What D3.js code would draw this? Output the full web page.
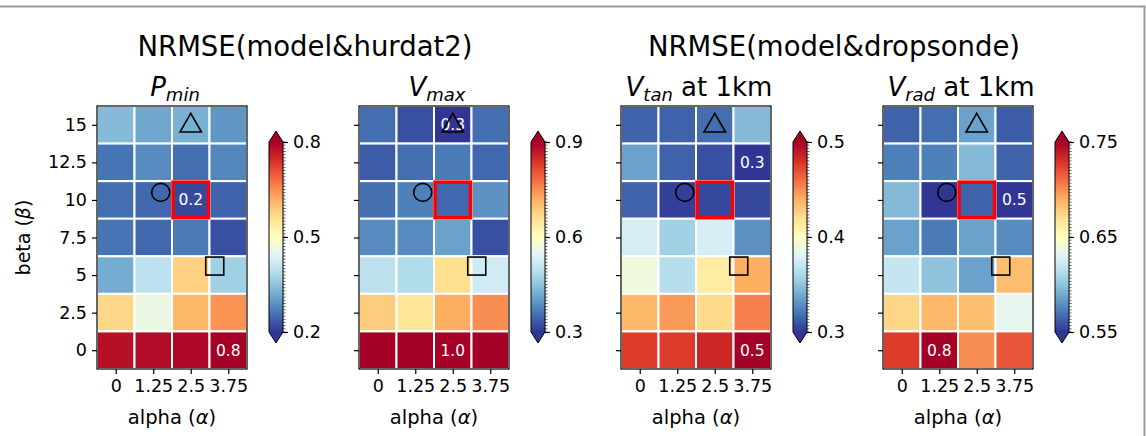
<!DOCTYPE html>
<html>
<head>
<meta charset="utf-8">
<script src="https://cdn.jsdelivr.net/npm/d3@7"></script>
<style>
  body { margin: 0; background: #fff; }
  svg { display: block; font-family: "DejaVu Sans", sans-serif; }
</style>
</head>
<body>
<svg id="chart" width="1146" height="436"></svg>
<script>
// grid axes
const alphas = [0, 1.25, 2.5, 3.75];
const betas = [15, 12.5, 10, 7.5, 5, 2.5, 0]; // rows, top to bottom
const alphaLabels = ["0", "1.25", "2.5", "3.75"];
const betaLabels = ["15", "12.5", "10", "7.5", "5", "2.5", "0"];

// NRMSE values, rows follow `betas`, columns follow `alphas`
const pmin = [
  [0.338, 0.314, 0.326, 0.296],
  [0.260, 0.284, 0.254, 0.278],
  [0.254, 0.248, 0.218, 0.242],
  [0.260, 0.248, 0.266, 0.224],
  [0.320, 0.398, 0.578, 0.368],
  [0.572, 0.462, 0.608, 0.644],
  [0.780, 0.785, 0.790, 0.810]
];
const vmax = [
  [0.354, 0.324, 0.300, 0.354],
  [0.336, 0.354, 0.366, 0.348],
  [0.354, 0.372, 0.348, 0.390],
  [0.384, 0.384, 0.408, 0.324],
  [0.498, 0.486, 0.660, 0.522],
  [0.684, 0.648, 0.720, 0.750],
  [0.960, 0.970, 1.000, 0.980]
];
const vtan = [
  [0.314, 0.314, 0.318, 0.346],
  [0.336, 0.314, 0.308, 0.300],
  [0.314, 0.303, 0.306, 0.306],
  [0.376, 0.356, 0.376, 0.330],
  [0.390, 0.364, 0.412, 0.440],
  [0.436, 0.446, 0.422, 0.454],
  [0.476, 0.476, 0.484, 0.510]
];
const vrad = [
  [0.564, 0.568, 0.586, 0.562],
  [0.574, 0.574, 0.596, 0.564],
  [0.596, 0.540, 0.564, 0.500],
  [0.586, 0.572, 0.586, 0.578],
  [0.620, 0.600, 0.586, 0.684],
  [0.674, 0.686, 0.684, 0.634],
  [0.726, 0.800, 0.700, 0.718]
];

const panels = [
  {sym: "P", sub: "min", rest: "", data: pmin, lim: [0.2, 0.8], ticks: [0.2, 0.5, 0.8]},
  {sym: "V", sub: "max", rest: "", data: vmax, lim: [0.3, 0.9], ticks: [0.3, 0.6, 0.9]},
  {sym: "V", sub: "tan", rest: " at 1km", data: vtan, lim: [0.3, 0.5], ticks: [0.3, 0.4, 0.5]},
  {sym: "V", sub: "rad", rest: " at 1km", data: vrad, lim: [0.55, 0.75], ticks: [0.55, 0.65, 0.75]}
];
const suptitles = ["NRMSE(model&hurdat2)", "NRMSE(model&dropsonde)"];

// reference markers (alpha, beta)
const best = {alpha: 2.5, beta: 10};
const circlePt = {alpha: 1.5, beta: 10.5};
const trianglePt = {alpha: 2.5, beta: 15};
const squarePt = {alpha: 3.3, beta: 5.6};

// RdYlBu_r
const rdylbu = ["#a50026","#d73027","#f46d43","#fdae61","#fee090","#ffffbf",
                "#e0f3f8","#abd9e9","#74add1","#4575b4","#313695"];
const cmap = d3.piecewise(d3.interpolateRgb, rdylbu.slice().reverse());

const svg = d3.select("#chart");

// screenshot frame
svg.append("path").attr("d", "M0,6.5H1144.5V436")
  .attr("fill", "none").attr("stroke", "#9a9a9a").attr("stroke-width", 2);

const px = [97, 359, 621, 883], py = 106, pw = 150, ph = 263;
const tickFont = 17.5;

svg.append("text").attr("x", 305).attr("y", 56).attr("text-anchor", "middle")
  .attr("font-size", 27.5).text(suptitles[0]);
svg.append("text").attr("x", 834).attr("y", 56).attr("text-anchor", "middle")
  .attr("font-size", 27.5).text(suptitles[1]);

const defs = svg.append("defs");

panels.forEach((p, i) => {
  const x0 = px[i];
  const x = d3.scaleLinear().domain([-0.625, 4.375]).range([x0, x0 + pw]);
  const y = d3.scaleLinear().domain([-1.25, 16.25]).range([py + ph, py]);
  const cw = x(1.25) - x(0), chh = y(0) - y(2.5);
  const norm = d3.scaleLinear().domain(p.lim).clamp(true);
  const color = v => cmap(norm(v));

  const g = svg.append("g");
  const cells = [];
  p.data.forEach((row, r) => row.forEach((v, c) => cells.push({a: alphas[c], b: betas[r], v})));

  g.selectAll("rect.cell").data(cells).join("rect")
    .attr("class", "cell")
    .attr("x", d => x(d.a) - cw / 2).attr("y", d => y(d.b) - chh / 2)
    .attr("width", cw).attr("height", chh)
    .attr("fill", d => color(d.v))
    .attr("stroke", "#fff").attr("stroke-width", 2);

  // min / max labels
  const mn = d3.least(cells, d => d.v), mx = d3.greatest(cells, d => d.v);
  g.selectAll("text.ann").data([mn, mx]).join("text")
    .attr("class", "ann")
    .attr("x", d => x(d.a)).attr("y", d => y(d.b) + 5.5)
    .attr("text-anchor", "middle").attr("font-size", 15.5).attr("fill", "#fff")
    .text(d => d3.format(".1f")(d.v));

  // best combination box
  g.append("rect")
    .attr("x", x(best.alpha) - cw / 2 + 1).attr("y", y(best.beta) - chh / 2 + 1)
    .attr("width", cw - 2).attr("height", chh - 2)
    .attr("fill", "none").attr("stroke", "#ff0000").attr("stroke-width", 3.5);

  // markers
  g.append("circle").attr("cx", x(circlePt.alpha)).attr("cy", y(circlePt.beta)).attr("r", 9)
    .attr("fill", "none").attr("stroke", "#000").attr("stroke-width", 1.6);
  g.append("path")
    .attr("d", d3.symbol(d3.symbolTriangle, 200)())
    .attr("transform", `translate(${x(trianglePt.alpha)},${y(trianglePt.beta) + 1})`)
    .attr("fill", "none").attr("stroke", "#000").attr("stroke-width", 1.6);
  g.append("rect").attr("x", x(squarePt.alpha) - 9).attr("y", y(squarePt.beta) - 9)
    .attr("width", 18).attr("height", 18)
    .attr("fill", "none").attr("stroke", "#000").attr("stroke-width", 1.6);

  // frame
  g.append("rect").attr("x", x0).attr("y", py).attr("width", pw).attr("height", ph)
    .attr("fill", "none").attr("stroke", "#000").attr("stroke-width", 1.2);

  // axes
  const xa = g.append("g").attr("transform", `translate(0,${py + ph})`)
    .call(d3.axisBottom(x).tickValues(alphas).tickFormat((d, k) => alphaLabels[k])
      .tickSize(5).tickPadding(6));
  const ya = g.append("g").attr("transform", `translate(${x0},0)`)
    .call(d3.axisLeft(y).tickValues(betas).tickFormat((d, k) => i === 0 ? betaLabels[k] : "")
      .tickSize(5).tickPadding(5));
  [xa, ya].forEach(a => {
    a.select(".domain").remove();
    a.selectAll("text").attr("font-size", tickFont).attr("fill", "#000")
      .attr("font-family", "DejaVu Sans");
    a.selectAll("line").attr("stroke", "#000").attr("stroke-width", 1.2);
  });

  // x label
  const xl = g.append("text").attr("x", x0 + pw / 2).attr("y", 424)
    .attr("text-anchor", "middle").attr("font-size", 19.5);
  xl.append("tspan").text("alpha (");
  xl.append("tspan").attr("font-style", "italic").text("α");
  xl.append("tspan").text(")");

  if (i === 0) {
    const yl = g.append("text").attr("transform", `translate(30,${py + ph / 2}) rotate(-90)`)
      .attr("text-anchor", "middle").attr("font-size", 19);
    yl.append("tspan").text("beta (");
    yl.append("tspan").attr("font-style", "italic").text("β");
    yl.append("tspan").text(")");
  }

  // panel title
  const t = g.append("text").attr("x", x0 + pw / 2 + 3).attr("y", 96)
    .attr("text-anchor", "middle").attr("font-size", 26);
  t.append("tspan").attr("font-style", "italic").text(p.sym);
  t.append("tspan").attr("font-style", "italic").attr("font-size", 18).attr("dy", 5).text(p.sub);
  if (p.rest) t.append("tspan").attr("dy", -5).text(p.rest);

  // colorbar
  const cx = x0 + 172, cbw = 14, ct = 142, cb = 332, ext = 11;
  const cy = d3.scaleLinear().domain(p.lim).range([cb, ct]);
  const gid = "grad" + i;
  const grad = defs.append("linearGradient").attr("id", gid)
    .attr("x1", 0).attr("y1", 1).attr("x2", 0).attr("y2", 0);
  d3.range(0, 1.0001, 0.05).forEach(s =>
    grad.append("stop").attr("offset", s).attr("stop-color", cmap(s)));
  g.append("rect").attr("x", cx).attr("y", ct).attr("width", cbw).attr("height", cb - ct)
    .attr("fill", `url(#${gid})`);
  g.append("path").attr("d", `M${cx},${ct}L${cx + cbw / 2},${ct - ext}L${cx + cbw},${ct}Z`)
    .attr("fill", cmap(1));
  g.append("path").attr("d", `M${cx},${cb}L${cx + cbw / 2},${cb + ext}L${cx + cbw},${cb}Z`)
    .attr("fill", cmap(0));
  g.append("path")
    .attr("d", `M${cx},${ct}L${cx + cbw / 2},${ct - ext}L${cx + cbw},${ct}L${cx + cbw},${cb}` +
      `L${cx + cbw / 2},${cb + ext}L${cx},${cb}Z`)
    .attr("fill", "none").attr("stroke", "#000").attr("stroke-width", 1);
  // minor ticks
  const span = p.lim[1] - p.lim[0];
  g.selectAll("line.minor").data(d3.range(0, 61).map(k => p.lim[0] + span * k / 60)).join("line")
    .attr("class", "minor")
    .attr("x1", cx + cbw).attr("x2", cx + cbw + 2.5)
    .attr("y1", d => cy(d)).attr("y2", d => cy(d))
    .attr("stroke", "#000").attr("stroke-width", 0.6);
  const ca = g.append("g").attr("transform", `translate(${cx + cbw},0)`)
    .call(d3.axisRight(cy).tickValues(p.ticks).tickFormat(d3.format("~g")).tickSize(5).tickPadding(5));
  ca.select(".domain").remove();
  ca.selectAll("text").attr("font-size", tickFont).attr("fill", "#000").attr("font-family", "DejaVu Sans");
  ca.selectAll("line").attr("stroke", "#000").attr("stroke-width", 1.2);
});
</script>
</body>
</html>
